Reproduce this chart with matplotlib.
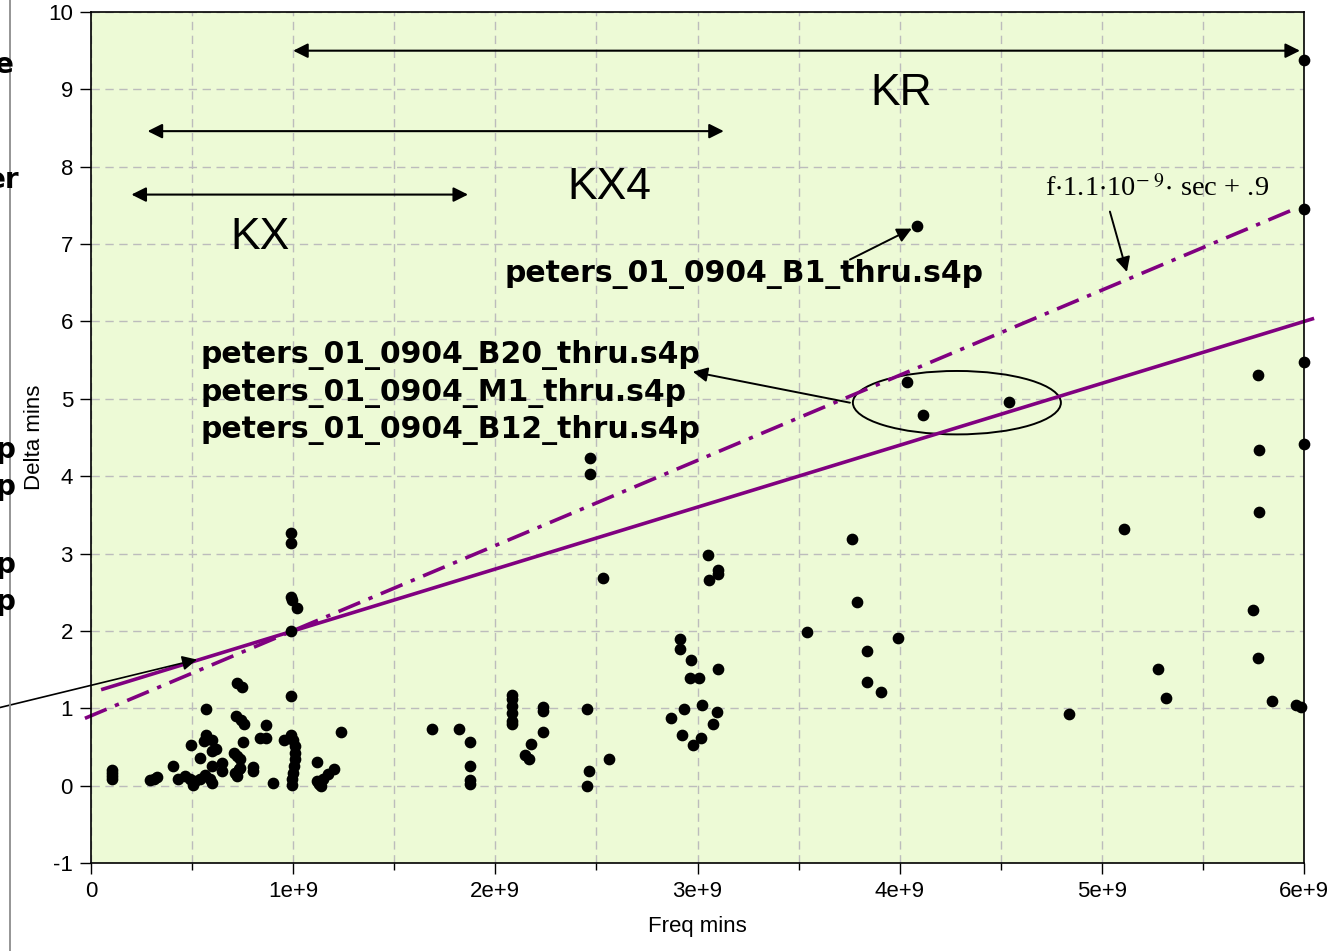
import matplotlib
matplotlib.use("Agg")
import matplotlib.pyplot as plt
from matplotlib.patches import Ellipse
from matplotlib.lines import Line2D
from matplotlib.ticker import FixedLocator, FixedFormatter

plt.rcParams["mathtext.fontset"] = "stix"

# measured points (freq in GHz, delta in mins)
freq_ghz = [
    0.105, 0.105, 0.105, 0.105, 0.29, 0.31, 0.325, 0.404, 0.43,
    0.465, 0.49, 0.493, 0.506, 0.515, 0.54, 0.54, 0.56, 0.564, 0.567, 0.569,
    0.589, 0.597, 0.597, 0.597, 0.60, 0.618, 0.65, 0.65,
    0.707, 0.712, 0.717, 0.72, 0.72, 0.724, 0.73, 0.737, 0.737, 0.74, 0.745,
    0.753, 0.758, 0.80, 0.80, 0.836, 0.865, 0.866, 0.90, 0.955,
    0.99, 0.99, 0.99, 0.995, 1.02, 0.99, 0.99, 0.99, 1.0, 1.01, 1.01, 1.01,
    1.005, 1.0, 0.995, 0.995,
    1.116, 1.116, 1.13, 1.137, 1.15, 1.174, 1.20, 1.235,
    1.685, 1.82, 1.874, 1.874, 1.874, 1.874,
    2.084, 2.084, 2.084, 2.084, 2.084, 2.084,
    2.237, 2.237, 2.237, 2.175, 2.146, 2.166,
    2.455, 2.463, 2.455, 2.562, 2.468, 2.468, 2.532,
    3.05, 3.10, 3.10, 3.058, 2.913, 2.913, 2.967, 2.962, 3.007, 3.10,
    2.933, 3.023, 2.868, 3.094, 3.078, 2.924, 3.015, 2.979,
    3.765, 3.79, 3.54, 3.99, 3.836, 3.836, 3.91,
    4.088, 4.034, 4.117, 4.54, 4.837,
    5.109, 5.28, 5.317,
    5.77, 5.778, 5.778, 5.75, 5.77, 5.84, 5.958, 5.986,
    6.0, 6.0, 6.0, 6.0,
]
delta = [
    0.08, 0.12, 0.16, 0.20, 0.07, 0.09, 0.11, 0.26, 0.08,
    0.13, 0.08, 0.52, 0.01, 0.055, 0.08, 0.36, 0.575, 0.14, 0.99, 0.66,
    0.08, 0.035, 0.45, 0.59, 0.26, 0.47, 0.29, 0.185,
    0.42, 0.16, 0.90, 0.12, 1.33, 0.38, 0.21, 0.345, 0.23, 0.85, 1.28,
    0.565, 0.80, 0.24, 0.185, 0.62, 0.78, 0.62, 0.035, 0.59,
    3.26, 3.14, 2.44, 2.40, 2.29, 2.0, 1.16, 0.66, 0.59, 0.51, 0.42, 0.34,
    0.25, 0.16, 0.08, 0.01,
    0.31, 0.055, 0.02, 0.0, 0.09, 0.155, 0.22, 0.69,
    0.73, 0.73, 0.57, 0.26, 0.07, 0.02,
    1.175, 1.12, 1.03, 0.94, 0.83, 0.80,
    1.02, 0.96, 0.69, 0.54, 0.40, 0.35,
    0.99, 0.19, 0.0, 0.35, 4.24, 4.03, 2.69,
    2.975, 2.79, 2.73, 2.66, 1.895, 1.77, 1.63, 1.39, 1.39, 1.51,
    0.99, 1.04, 0.87, 0.95, 0.80, 0.66, 0.61, 0.52,
    3.19, 2.38, 1.98, 1.91, 1.74, 1.34, 1.21,
    7.24, 5.22, 4.79, 4.96, 0.92,
    3.32, 1.51, 1.13,
    5.31, 4.34, 3.54, 2.27, 1.65, 1.09, 1.04, 1.01,
    9.38, 7.45, 5.47, 4.41,
]
freq = [f * 1e9 for f in freq_ghz]

# fitted lines (end points)
fit_x = [0.05e9, 6.05e9]
fit_y = [1.24, 6.04]
bound_x = [-0.03e9, 5.95e9]
bound_y = [0.87, 7.45]

# ranges marked with double arrows
range_names = ["KX", "KX4", "KR"]
range_start = [0.2e9, 0.28e9, 1.0e9]
range_end = [1.865e9, 3.13e9, 5.98e9]
range_y = [7.64, 8.46, 9.50]
label_x = [0.836e9, 2.562e9, 4.006e9]
label_y = [7.09, 7.73, 8.95]

xtick_vals = [0, 1e9, 2e9, 3e9, 4e9, 5e9, 6e9]
xtick_labels = ["0", "1e+9", "2e+9", "3e+9", "4e+9", "5e+9", "6e+9"]
ytick_vals = list(range(-1, 11))
ytick_labels = [str(v) for v in ytick_vals]

fig = plt.figure(figsize=(13.27, 9.51), dpi=100)
ax = fig.add_axes([91 / 1327, 1 - 863 / 951, (1304 - 91) / 1327, (863 - 12) / 951])
ax.set_facecolor("#edfad6")
ax.set_xlim(0, 6e9)
ax.set_ylim(-1, 10)

ax.xaxis.set_major_locator(FixedLocator(xtick_vals))
ax.xaxis.set_major_formatter(FixedFormatter(xtick_labels))
ax.xaxis.set_minor_locator(FixedLocator([0.5e9, 1.5e9, 2.5e9, 3.5e9, 4.5e9, 5.5e9]))
ax.yaxis.set_major_locator(FixedLocator(ytick_vals))
ax.yaxis.set_major_formatter(FixedFormatter(ytick_labels))
ax.tick_params(axis="both", which="major", length=8, width=1, labelsize=16, pad=5)
ax.tick_params(axis="x", which="minor", length=5, width=1)
for lab in ax.get_xticklabels() + ax.get_yticklabels():
    lab.set_fontfamily("Liberation Sans")
ax.grid(True, which="both", color="#bcbcbc", linestyle=(0, (6, 4)), linewidth=1)
ax.set_axisbelow(True)
for sp in ax.spines.values():
    sp.set_linewidth(1.2)

ax.set_xlabel("Freq mins", fontsize=16, fontfamily="Liberation Sans", labelpad=10)
ax.set_ylabel("Delta mins", fontsize=16, fontfamily="Liberation Sans", labelpad=2)

ax.plot(fit_x, fit_y, color="#800080", lw=2.6, clip_on=False, solid_capstyle="butt")
ax.plot(bound_x, bound_y, color="#800080", lw=2.6, clip_on=False,
        dashes=(6.5, 2.5, 1.2, 2.5))

ax.scatter(freq, delta, s=55, color="black", zorder=5, clip_on=False)

for name, x0, x1, y, lx, ly in zip(range_names, range_start, range_end, range_y,
                                   label_x, label_y):
    ax.annotate("", xy=(x0, y), xytext=(x1, y),
                arrowprops=dict(arrowstyle="<|-|>", color="black", lw=1.5,
                                mutation_scale=22, shrinkA=0, shrinkB=0))
    ax.text(lx, ly, name, fontsize=32, fontfamily="Liberation Sans",
            ha="center", va="center")

ax.text(2.047e9, 6.615, "peters_01_0904_B1_thru.s4p", fontsize=21.5, fontweight="bold",
        ha="left", va="center")
ax.text(0.54e9, 5.08, "peters_01_0904_B20_thru.s4p\npeters_01_0904_M1_thru.s4p\npeters_01_0904_B12_thru.s4p",
        fontsize=21.5, fontweight="bold", ha="left", va="center", linespacing=1.32)

arrow_kw = dict(arrowstyle="-|>", color="black", lw=1.4, mutation_scale=22,
                shrinkA=0, shrinkB=0)
ax.annotate("", xy=(4.06e9, 7.2), xytext=(3.754e9, 6.80), arrowprops=arrow_kw)
ax.annotate("", xy=(2.977e9, 5.35), xytext=(3.754e9, 4.95), arrowprops=arrow_kw)
ax.annotate("", xy=(5.124e9, 6.64), xytext=(5.04e9, 7.42), arrowprops=arrow_kw)
ax.annotate("", xy=(0.524e9, 1.63), xytext=(-0.45e9, 1.01), annotation_clip=False,
            arrowprops=dict(arrow_kw, lw=1.2, clip_on=False))

ax.add_patch(Ellipse((4.283e9, 4.95), 1.029e9, 0.82, fill=False, edgecolor="black", lw=1.4))

ax.text(4.72e9, 7.72, r"f$\cdot$1.1$\cdot$10$^{-\ 9}$$\cdot$ sec + .9", fontsize=20.5,
        fontfamily="Liberation Serif", ha="left", va="center")

# frame line and cut off text at the left border
fig.add_artist(Line2D([10 / 1327, 10 / 1327], [0, 1], color="#8c8c8c", lw=1.3,
                      transform=fig.transFigure))
for txt, ypx, xpx in [("e", 65, 14), ("er", 180, 19), ("p", 450, 15),
                      ("p", 487, 15), ("p", 565, 15), ("p", 602, 15)]:
    fig.text(xpx / 1327, 1 - ypx / 951, txt, fontsize=20, fontweight="bold",
             ha="right", va="center")

fig.savefig("out.png", dpi=100)
